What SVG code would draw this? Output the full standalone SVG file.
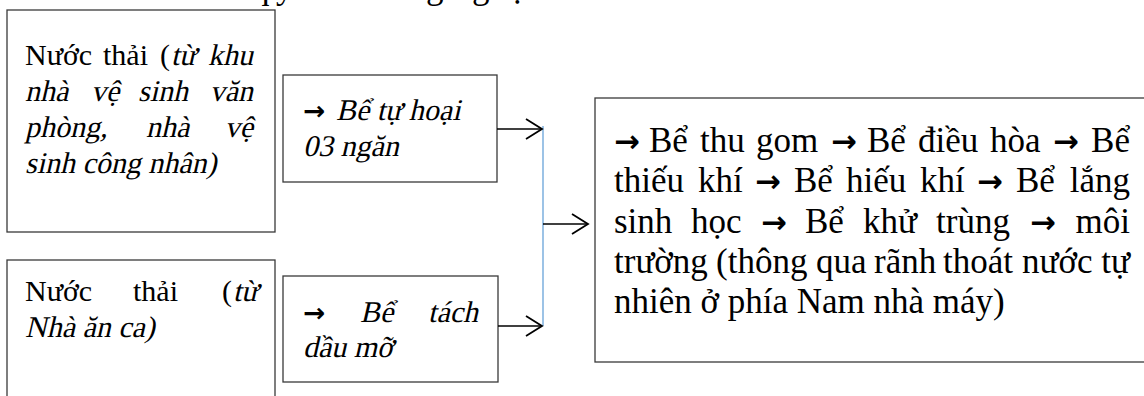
<svg xmlns="http://www.w3.org/2000/svg" width="1144" height="396" viewBox="0 0 1144 396">
  <style>
    .box { fill: #ffffff; stroke: #3a3a3a; stroke-width: 1.3; }
    .t { font-family: "Liberation Serif", "Times New Roman", serif; fill: #000000; }
    .s { font-size: 30px; }
    .l { font-size: 35px; }
    .ar { font-family: "DejaVu Sans", sans-serif; font-weight: bold; font-size: 0.88em; }
    .wire { fill: none; stroke: #000000; stroke-width: 1.6; }
    .bus { fill: none; stroke: #5b9bd5; stroke-width: 1.2; }
  </style>
  <defs>
    <marker id="chev" markerUnits="userSpaceOnUse" markerWidth="20" markerHeight="24" refX="17" refY="11" orient="auto">
      <path d="M1,1 L17,11 L1,21" fill="none" stroke="#000000" stroke-width="1.8"/>
    </marker>
  </defs>

  <rect width="1144" height="396" fill="#ffffff"/>

  <!-- tail of the preceding text line, clipped at the top edge -->
  <text class="t l" x="252 276 426 472 510" y="-2">qyggạ</text>

  <!-- italic runs: upright serif face slanted about its baseline -->
  <g id="node-wc">
    <rect class="box" x="7" y="10" width="268" height="222"/>
    <text class="t s" y="65"><tspan x="25">Nước</tspan><tspan x="103">thải</tspan><tspan x="160">(</tspan></text>
    <text class="t s" transform="translate(0 65) skewX(-13)" y="0"><tspan x="171">từ</tspan><tspan x="253" text-anchor="end">khu</tspan></text>
    <text class="t s" transform="translate(0 101) skewX(-13)" y="0"><tspan x="25">nhà</tspan><tspan x="91">vệ</tspan><tspan x="138">sinh</tspan><tspan x="253" text-anchor="end">văn</tspan></text>
    <text class="t s" transform="translate(0 137) skewX(-13)" y="0"><tspan x="25">phòng,</tspan><tspan x="146">nhà</tspan><tspan x="253" text-anchor="end">vệ</tspan></text>
    <text class="t s" transform="translate(0 173) skewX(-13)" x="25" y="0">sinh công nhân)</text>
  </g>

  <g id="node-canteen">
    <rect class="box" x="7" y="260" width="268" height="150"/>
    <text class="t s" y="301"><tspan x="25">Nước</tspan><tspan x="133">thải</tspan><tspan x="222">(</tspan></text>
    <text class="t s" transform="translate(0 301) skewX(-13)" x="233" y="0">từ</text>
    <text class="t s" transform="translate(0 337) skewX(-13)" x="25" y="0">Nhà ăn ca)</text>
  </g>

  <g id="node-septic">
    <rect class="box" x="283" y="75" width="214" height="107"/>
    <text class="t s" x="303" y="120"><tspan class="ar">→</tspan></text>
    <text class="t s" transform="translate(0 120) skewX(-13)" x="336" y="0">Bể tự hoại</text>
    <text class="t s" transform="translate(0 156) skewX(-13)" x="303" y="0">03 ngăn</text>
  </g>

  <g id="node-grease">
    <rect class="box" x="283" y="276" width="215" height="106"/>
    <text class="t s" x="303" y="322"><tspan class="ar">→</tspan></text>
    <text class="t s" transform="translate(0 322) skewX(-13)" y="0"><tspan x="360">Bể</tspan><tspan x="478" text-anchor="end">tách</tspan></text>
    <text class="t s" transform="translate(0 357) skewX(-13)" x="303" y="0">dầu mỡ</text>
  </g>

  <g id="node-treatment">
    <rect class="box" x="595" y="98" width="600" height="264"/>
    <text class="t l" y="152"><tspan class="ar" x="614">→</tspan><tspan x="649">Bể</tspan><tspan x="700">thu</tspan><tspan x="756">gom</tspan><tspan class="ar" x="831">→</tspan><tspan x="867">Bể</tspan><tspan x="918">điều</tspan><tspan x="990">hòa</tspan><tspan class="ar" x="1053">→</tspan><tspan x="1130" text-anchor="end">Bể</tspan></text>
    <text class="t l" y="192"><tspan x="614">thiếu</tspan><tspan x="698">khí</tspan><tspan class="ar" x="755">→</tspan><tspan x="794">Bể</tspan><tspan x="846">hiếu</tspan><tspan x="920">khí</tspan><tspan class="ar" x="977">→</tspan><tspan x="1016">Bể</tspan><tspan x="1130" text-anchor="end">lắng</tspan></text>
    <text class="t l" y="233"><tspan x="614">sinh</tspan><tspan x="691">học</tspan><tspan class="ar" x="761">→</tspan><tspan x="805">Bể</tspan><tspan x="863">khử</tspan><tspan x="936">trùng</tspan><tspan class="ar" x="1030">→</tspan><tspan x="1130" text-anchor="end">môi</tspan></text>
    <text class="t l" y="273"><tspan x="614">trường</tspan><tspan x="716">(thông</tspan><tspan x="816">qua</tspan><tspan x="874">rãnh</tspan><tspan x="943">thoát</tspan><tspan x="1022">nước</tspan><tspan x="1130" text-anchor="end">tự</tspan></text>
    <text class="t l" x="614" y="313">nhiên ở phía Nam nhà máy)</text>
  </g>

  <g id="connectors">
    <line class="bus" x1="543" y1="126" x2="543" y2="326"/>
    <line class="wire" x1="497" y1="129" x2="542" y2="129" marker-end="url(#chev)"/>
    <line class="wire" x1="498" y1="326" x2="542" y2="326" marker-end="url(#chev)"/>
    <line class="wire" x1="543" y1="224" x2="588" y2="224" marker-end="url(#chev)"/>
  </g>
</svg>
